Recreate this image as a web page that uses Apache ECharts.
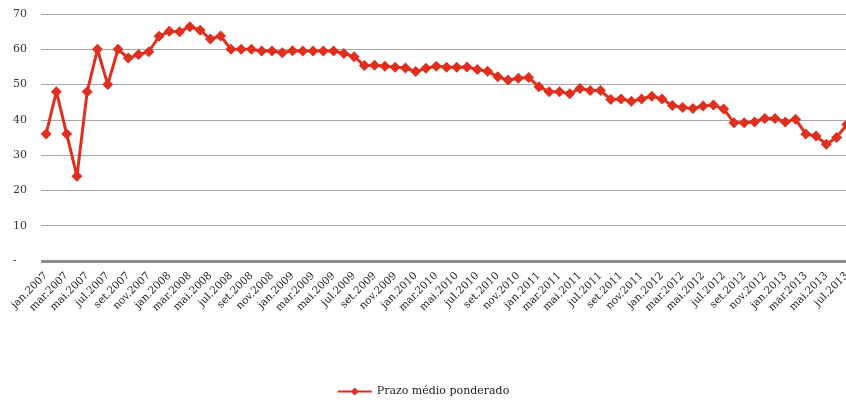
<!DOCTYPE html>
<html><head><meta charset="utf-8">
<script src="https://cdn.jsdelivr.net/npm/echarts@6/dist/echarts.min.js"></script>
<style>html,body{margin:0;padding:0;background:#fff}#c{width:846px;height:404px}</style>
</head><body><div id="c"></div>
<script>
const months = ['jan','fev','mar','abr','mai','jun','jul','ago','set','out','nov','dez'];
const categories = [];
for (let y = 2007; y <= 2013; y++) {
  for (let m = 0; m < 12; m++) {
    if (y === 2013 && m > 6) break;
    categories.push(months[m] + '.' + y);
  }
}
const prazoMedio = [
  36, 48, 36, 24, 48, 60, 50, 60, 57.5, 58.5, 59.3, 63.7,
  65.1, 65, 66.4, 65.4, 62.9, 63.8, 60, 60, 60, 59.5, 59.5, 59,
  59.6, 59.5, 59.5, 59.5, 59.5, 58.8, 57.9, 55.4, 55.5, 55.2, 54.9, 54.7,
  53.7, 54.6, 55.2, 54.9, 54.9, 55, 54.3, 53.8, 52.2, 51.3, 51.8, 52,
  49.4, 48, 48, 47.4, 48.9, 48.3, 48.3, 45.8, 45.9, 45.3, 45.9, 46.7,
  45.9, 44.1, 43.5, 43.2, 43.9, 44.2, 43.1, 39.2, 39.2, 39.4, 40.4, 40.4,
  39.4, 40.2, 36, 35.4, 33.1, 35, 38.7
];
const yTicks = [0, 10, 20, 30, 40, 50, 60, 70];
const seriesName = 'Prazo médio ponderado';
const FONT = 'DejaVu Serif';
const chart = echarts.init(document.getElementById('c'));
chart.setOption({
  animation: false,
  backgroundColor: '#fff',
  grid: { left: 41, top: 14, right: -6, bottom: 143, containLabel: false, outerBoundsMode: 'none' },
  legend: {
    bottom: 2, left: 'center', itemWidth: 34, itemHeight: 10,
    textStyle: { fontFamily: FONT, fontSize: 11, color: '#222' },
    data: [seriesName]
  },
  xAxis: {
    type: 'category', data: categories, boundaryGap: true,
    axisLine: { show: false }, axisTick: { show: false },
    axisLabel: { interval: 1, rotate: 45, fontFamily: FONT, fontSize: 10.5, color: '#222', margin: 13 }
  },
  yAxis: {
    type: 'value', min: yTicks[0], max: yTicks[yTicks.length - 1], interval: 10,
    axisLine: { show: false }, axisTick: { show: false },
    axisLabel: { fontFamily: FONT, fontSize: 11, color: '#333', margin: 14,
      formatter: v => v === 0 ? '-   ' : String(v) },
    splitLine: { lineStyle: { color: '#a6a6a6', width: 1 } }
  },
  series: [{
    name: seriesName, type: 'line', data: prazoMedio,
    symbol: 'diamond', symbolSize: 11, showAllSymbol: true,
    itemStyle: { color: '#de2f1f' },
    lineStyle: { color: '#de2f1f', width: 3 },
    markLine: {
      silent: true, symbol: 'none', label: { show: false },
      lineStyle: { color: '#8c8c8c', width: 3, type: 'solid' },
      data: [{ yAxis: 0 }]
    },
    z: 3
  }]
});
</script></body></html>
